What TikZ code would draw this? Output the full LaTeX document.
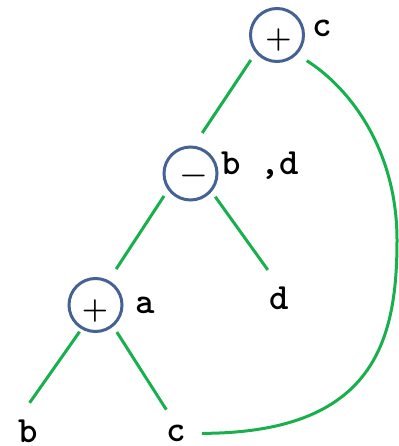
\documentclass[tikz,border=0pt]{standalone}
\usepackage{fontspec}
\definecolor{circ}{RGB}{68,98,148}
\definecolor{grn}{RGB}{24,176,76}
\begin{document}
\begin{tikzpicture}[x=1pt,y=-1pt,
  opnode/.style={circle,draw=circ,line width=3pt,minimum size=53pt,inner sep=0pt,outer sep=0pt},
  sign/.style={font=\fontsize{30}{30}\selectfont\bfseries,inner sep=0pt},
  lab/.style={font=\fontsize{37}{37}\selectfont\ttfamily\bfseries,inner sep=0pt,anchor=base},
  edge/.style={draw=grn,line width=3pt}]
\useasboundingbox (0,0) rectangle (398,446);
% operator circles
\node[opnode] (top) at (277,35) {};
\node[opnode] (mid) at (190.5,173.5) {};
\node[opnode] (bot) at (95.5,305) {};
\node[sign] (topsign) at (278.5,40) {+};
\node[sign] (midsign) at (193.5,179) {−};
\node[sign] (botsign) at (95,311) {+};
% labels
\node[lab] (ltop) at (322.5,37) {c};
\node[lab,anchor=base west] (lmid) at (221,175) {b ,d};
\node[lab] (lbot) at (145,313) {a};
% leaves
\node[lab] (d) at (279.5,309) {d};
\node[lab] (b) at (28,442) {b};
\node[lab] (c) at (176,441.5) {c};
% edges
\draw[edge,shorten <=10pt,shorten >=17pt] (top.219) -- (mid.85.7);
\draw[edge,shorten <=8.7pt,shorten >=15pt] (mid.215) -- (bot.62.4);
\draw[edge,shorten <=7.7pt,shorten >=20pt] (mid.320) -- (d.north);
\draw[edge,shorten <=4.6pt,shorten >=20pt] (bot.240.8) -- (b.north west);
\draw[edge,shorten <=8pt,shorten >=18pt] (bot.310) -- (c.north);
\draw[edge,shorten <=13pt,shorten >=16pt] (top.315) .. controls (350,88) and (397,150) .. (397,240)
  .. controls (397,340) and (375,433) .. (c.east);
\end{tikzpicture}
\end{document}
